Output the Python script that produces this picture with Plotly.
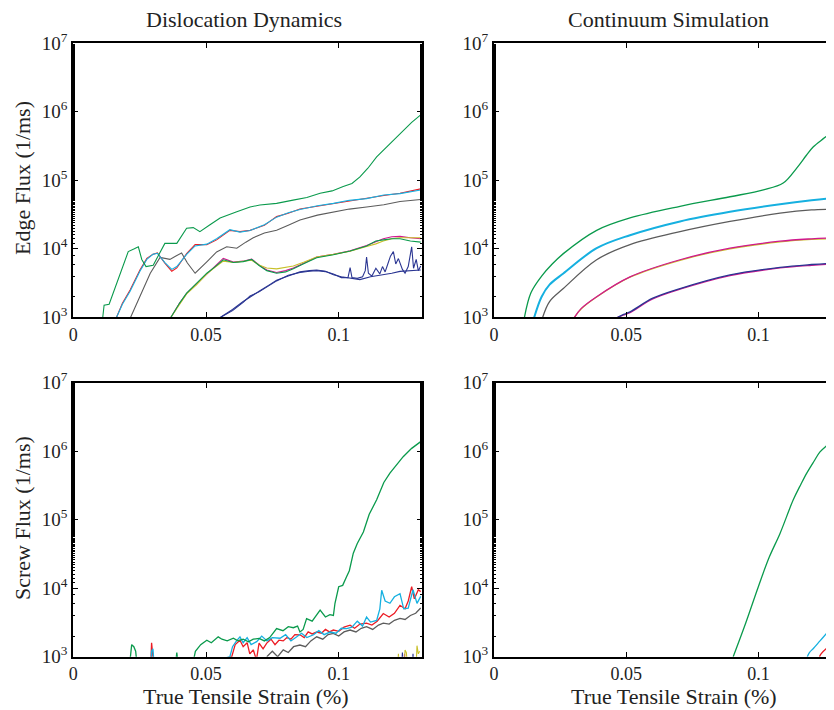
import plotly.graph_objects as go

# page body has an 8px margin, so the figure is drawn 8px in from the window corner
OFF = 8
W, H = 834 - OFF, 710 - OFF
FONT = "Liberation Serif"

GREEN = "#0a9a4c"
RED = "#ec1c24"
CYAN = "#16b0e0"
GRAY = "#5c5c5c"
MAGENTA = "#d0188f"
YELLOW = "#c8c02a"
BLUE = "#2a3592"

# ---------------- Edge flux, dislocation dynamics (top-left) ----------------
dd_edge_green_x = [0.0111, 0.0116, 0.0135, 0.0160, 0.0188, 0.0207, 0.0230, 0.0245, 0.0258, 0.0274, 0.0301,
                   0.0325, 0.0345, 0.0390, 0.0427, 0.0452, 0.0477, 0.0515, 0.0553, 0.0616, 0.0666, 0.0703,
                   0.0766, 0.0828, 0.0880, 0.0930, 0.0975, 0.1017, 0.1050, 0.1080, 0.1110, 0.1143, 0.1175,
                   0.1206, 0.1240, 0.1275, 0.1309]
dd_edge_green_y = [1000, 1500, 1550, 2800, 5500, 9100, 10000, 10700, 7000, 5500, 5750,
                   8500, 12000, 12000, 20000, 20400, 17800, 22400, 28200, 34700, 40700, 43700,
                   46000, 51300, 56000, 64600, 70000, 81300, 90000, 112000, 150000, 219000, 290000,
                   389000, 520000, 700000, 900000]

dd_edge_rc_x = [0.0163, 0.0185, 0.0214, 0.0251, 0.0277, 0.0300, 0.0317, 0.0345, 0.0371, 0.0390, 0.0427,
                0.0459, 0.0503, 0.0540, 0.0590, 0.0628, 0.0666, 0.0720, 0.0766, 0.0810, 0.0854, 0.0920,
                0.0980, 0.1040, 0.1105, 0.1170, 0.1231, 0.1309]
dd_edge_red_y = [1000, 1600, 2500, 4900, 7240, 8300, 8700, 6170, 4700, 5250, 8500,
                 11500, 11500, 13500, 18600, 17800, 18600, 22000, 29500, 33000, 38000, 42000,
                 45700, 50000, 55000, 60000, 64600, 75000]
dd_edge_cyan_y = [1000, 1550, 2400, 4700, 7000, 8300, 8600, 6300, 5000, 5500, 8300,
                  11000, 11700, 14000, 19000, 17500, 18500, 22500, 29000, 33500, 37500, 42500,
                  46000, 51000, 54000, 61000, 64000, 72000]

dd_edge_gray_x = [0.0216, 0.0250, 0.0290, 0.0327, 0.0350, 0.0364, 0.0385, 0.0408, 0.0430, 0.0459, 0.0503,
                  0.0540, 0.0578, 0.0616, 0.0650, 0.0678, 0.0720, 0.0766, 0.0810, 0.0854, 0.0920, 0.0980,
                  0.1040, 0.1105, 0.1170, 0.1231, 0.1309]
dd_edge_gray_y = [1000, 2000, 4400, 7500, 7200, 7000, 7800, 8700, 6200, 4400, 6450,
                  9000, 10700, 10200, 12500, 14500, 17000, 18600, 22000, 26300, 31000, 34700,
                  38000, 40700, 44000, 49000, 52500]

dd_edge_low_x = [0.0368, 0.0400, 0.0427, 0.0465, 0.0503, 0.0535, 0.0565, 0.0603, 0.0640, 0.0672, 0.0700,
                 0.0729, 0.0766, 0.0800, 0.0829, 0.0870, 0.0917, 0.0980, 0.1043, 0.1105, 0.1140, 0.1168,
                 0.1200, 0.1231, 0.1270, 0.1309]
dd_edge_magenta_y = [1000, 1600, 2240, 3100, 4370, 5600, 7240, 6400, 6600, 7100, 5800,
                     4900, 4500, 4800, 5250, 6200, 7590, 8320, 9330, 11200, 12500, 14000,
                     15000, 15200, 14500, 14000]
dd_edge_yellow_y = [1000, 1550, 2200, 3000, 4300, 5400, 6600, 6300, 6500, 6800, 5800,
                    5250, 5100, 5300, 5600, 6400, 7600, 8300, 9200, 10800, 11800, 13000,
                    14000, 14500, 14500, 14500]
dd_edge_green2_y = [1000, 1600, 2250, 3150, 4400, 5500, 6900, 6300, 6500, 7000, 5700,
                    4800, 4400, 4600, 5100, 6100, 7400, 8200, 9300, 11000, 13000, 13500,
                    14000, 14000, 13000, 12500]

dd_edge_blue_a_x = [0.0555, 0.0600, 0.0640, 0.0666, 0.0700, 0.0740, 0.0766, 0.0810, 0.0854, 0.0890, 0.0917,
                    0.0950, 0.0980, 0.1010, 0.1043, 0.1080, 0.1120, 0.1168, 0.1200, 0.1231, 0.1270, 0.1309]
dd_edge_blue_a_y = [1000, 1300, 1700, 2000, 2400, 3000, 3470, 4000, 4600, 4800, 4900,
                    4700, 4170, 3900, 3700, 3550, 3900, 4170, 4400, 4680, 4800, 4900]
dd_edge_blue_b_x = [0.0555, 0.0600, 0.0640, 0.0666, 0.0700, 0.0740, 0.0766, 0.0810, 0.0854, 0.0890, 0.0917,
                    0.0950, 0.0980, 0.1010, 0.1035, 0.1043, 0.1050, 0.1070, 0.1090, 0.1100, 0.1105, 0.1112,
                    0.1125, 0.1140, 0.1155, 0.1165, 0.1175, 0.1185, 0.1195, 0.1206, 0.1215, 0.1225, 0.1240,
                    0.1250, 0.1262, 0.1275, 0.1282, 0.1292, 0.1300, 0.1309]
dd_edge_blue_b_y = [1000, 1250, 1650, 2050, 2350, 2900, 3400, 4100, 4500, 4700, 4800,
                    4650, 4300, 3800, 3800, 5300, 3800, 3700, 3900, 4800, 7600, 4400,
                    4000, 5200, 4300, 5500, 4600, 6000, 7800, 9100, 6000, 7200, 5000,
                    4400, 5500, 10700, 5200, 7000, 4800, 5600]

# ---------------- Edge flux, continuum simulation (top-right) ----------------
cs_edge_green_x = [0.0115, 0.0140, 0.0180, 0.0220, 0.0262, 0.0388, 0.0514, 0.0703, 0.0892, 0.1018, 0.1093,
                   0.1144, 0.1180, 0.1207, 0.1250, 0.1282, 0.1310]
cs_edge_green_y = [1000, 2300, 4000, 6000, 8500, 18600, 28200, 41700, 57500, 72400, 91200,
                   151000, 230000, 309000, 420000, 537000, 650000]
cs_edge_cyan_x = [0.0152, 0.0180, 0.0210, 0.0262, 0.0388, 0.0514, 0.0703, 0.0892, 0.1081, 0.1200, 0.1282, 0.1310]
cs_edge_cyan_y = [1000, 2000, 3000, 4370, 10200, 15800, 25100, 34700, 44700, 51000, 55000, 56000]
cs_edge_gray_x = [0.0184, 0.0210, 0.0262, 0.0388, 0.0514, 0.0703, 0.0892, 0.1081, 0.1200, 0.1282, 0.1310]
cs_edge_gray_y = [1000, 1700, 2630, 6920, 11500, 17800, 25100, 33100, 37000, 38000, 38500]
cs_edge_mid_x = [0.0304, 0.0330, 0.0388, 0.0514, 0.0703, 0.0892, 0.1081, 0.1200, 0.1282, 0.1310]
cs_edge_magenta_y = [1000, 1350, 2000, 3890, 6920, 10200, 12900, 14000, 14500, 14600]
cs_edge_yellow_y = [1000, 1330, 1980, 3850, 6800, 10000, 12600, 13700, 14000, 14100]
cs_edge_low_x = [0.0467, 0.0490, 0.0514, 0.0600, 0.0703, 0.0892, 0.1081, 0.1200, 0.1282, 0.1310]
cs_edge_blue_y = [1000, 1100, 1200, 1900, 2630, 4170, 5370, 5900, 6170, 6200]
cs_edge_purple_y = [1000, 1080, 1170, 1850, 2570, 4070, 5250, 5750, 6000, 6050]

# ---------------- Screw flux, dislocation dynamics (bottom-left) ----------------
dd_screw_green_x = [0.0214, 0.0220, 0.0228, 0.0235, 0.0245, 0.0380, 0.0390, 0.0400, 0.0440, 0.0460, 0.0480,
                    0.0503, 0.0520, 0.0546, 0.0560, 0.0580, 0.0603, 0.0620, 0.0640, 0.0660, 0.0678, 0.0700,
                    0.0720, 0.0740, 0.0766, 0.0790, 0.0810, 0.0829, 0.0845, 0.0854, 0.0866, 0.0879, 0.0900,
                    0.0915, 0.0930, 0.0950, 0.0967, 0.0980, 0.0986, 0.1000, 0.1015, 0.1030, 0.1040, 0.1055,
                    0.1070, 0.1093, 0.1115, 0.1143, 0.1170, 0.1193, 0.1220, 0.1243, 0.1275, 0.1309]
dd_screw_green_y = [900, 1500, 1400, 1200, 500, 500, 1150, 500, 500, 1200, 1500,
                    1740, 1600, 1950, 1800, 1700, 1860, 1700, 1800, 1650, 1800, 1850,
                    1700, 1900, 2570, 2400, 2750, 2650, 2800, 2300, 2500, 3600, 3300,
                    4000, 4790, 3800, 4100, 4000, 6030, 10500, 11000, 14800, 18000, 32400,
                    45000, 66100, 120000, 195000, 350000, 479000, 650000, 832000, 1100000, 1380000]
dd_screw_red_x = [0.0290, 0.0295, 0.0300, 0.0305, 0.0597, 0.0610, 0.0628, 0.0640, 0.0655, 0.0665, 0.0678,
                  0.0690, 0.0700, 0.0715, 0.0729, 0.0745, 0.0760, 0.0775, 0.0791, 0.0805, 0.0820, 0.0835,
                  0.0854, 0.0870, 0.0885, 0.0900, 0.0917, 0.0935, 0.0950, 0.0965, 0.0980, 0.1000, 0.1020,
                  0.1043, 0.1060, 0.1080, 0.1105, 0.1125, 0.1145, 0.1168, 0.1190, 0.1210, 0.1231, 0.1250,
                  0.1262, 0.1275, 0.1285, 0.1300, 0.1309]
dd_screw_red_y = [500, 1600, 1000, 500, 1000, 1500, 1740, 1400, 1600, 1100, 1260,
                  900, 1580, 1300, 1580, 1800, 1500, 1740, 1700, 1900, 1800, 2100,
                  2090, 1900, 2300, 2150, 2290, 2200, 2500, 2300, 2450, 2350, 2700,
                  2880, 2600, 3000, 3090, 2900, 3300, 4270, 3800, 4300, 5620, 5000,
                  6500, 10500, 7000, 9500, 8910]
dd_screw_cyan_x = [0.0290, 0.0295, 0.0300, 0.0308, 0.0590, 0.0600, 0.0615, 0.0628, 0.0640, 0.0655, 0.0670,
                   0.0691, 0.0710, 0.0730, 0.0750, 0.0779, 0.0800, 0.0820, 0.0842, 0.0860, 0.0880, 0.0905,
                   0.0925, 0.0945, 0.0967, 0.0990, 0.1010, 0.1030, 0.1050, 0.1070, 0.1090, 0.1105, 0.1120,
                   0.1143, 0.1155, 0.1162, 0.1175, 0.1193, 0.1210, 0.1231, 0.1245, 0.1262, 0.1280, 0.1295,
                   0.1309]
dd_screw_cyan_y = [500, 1200, 1300, 500, 1000, 1400, 1700, 1950, 1600, 1900, 1500,
                   1660, 2000, 1700, 1900, 1860, 2100, 1700, 1950, 2200, 1900, 2090,
                   2400, 2100, 2290, 2200, 2600, 2570, 2700, 3300, 2800, 3800, 3200,
                   3390, 5000, 9330, 6500, 6030, 7500, 8320, 5000, 5130, 9500, 6000,
                   7590]
dd_screw_gray_x = [0.0729, 0.0750, 0.0770, 0.0791, 0.0810, 0.0830, 0.0854, 0.0875, 0.0895, 0.0917, 0.0940,
                   0.0960, 0.0980, 0.1000, 0.1020, 0.1043, 0.1065, 0.1085, 0.1105, 0.1128, 0.1150, 0.1168,
                   0.1190, 0.1210, 0.1231, 0.1250, 0.1270, 0.1290, 0.1309]
dd_screw_gray_y = [1000, 1200, 1000, 1260, 1150, 1400, 1480, 1400, 1700, 1950, 1800,
                   2100, 2190, 2000, 2300, 2450, 2300, 2600, 2750, 2500, 2900, 3090,
                   3000, 3400, 3630, 3500, 4000, 4300, 5130]
dd_screw_yellow_x = [0.1220, 0.1225, 0.1230, 0.1245, 0.1250, 0.1255, 0.1262, 0.1290, 0.1295, 0.1300, 0.1305]
dd_screw_yellow_y = [500, 1100, 500, 500, 1250, 1150, 500, 500, 1450, 1100, 1200]
dd_screw_blue_x = [0.1235, 0.1240, 0.1245, 0.1275, 0.1280, 0.1285]
dd_screw_blue_y = [500, 1150, 500, 500, 1100, 500]
dd_screw_magenta_x = [0.1245, 0.1248, 0.1252]
dd_screw_magenta_y = [500, 1100, 500]

# ---------------- Screw flux, continuum simulation (bottom-right) ----------------
cs_screw_green_x = [0.0904, 0.0950, 0.0999, 0.1040, 0.1081, 0.1131, 0.1160, 0.1182, 0.1210, 0.1232, 0.1260,
                    0.1282, 0.1310]
cs_screw_green_y = [1000, 3000, 10500, 28200, 63100, 195000, 330000, 479000, 720000, 977000, 1230000,
                    1450000, 1580000]
cs_screw_cyan_x = [0.1184, 0.1192, 0.1207, 0.1232, 0.1257, 0.1284, 0.1310]
cs_screw_cyan_y = [1000, 1150, 1320, 1700, 2190, 2880, 3630]
cs_screw_red_x = [0.1230, 0.1236, 0.1257, 0.1284, 0.1310]
cs_screw_red_y = [1000, 1100, 1320, 1580, 1900]

# ---------------- Text ----------------
x_tick_vals = [0, 0.05, 0.1]
x_tick_text = ["0", "0.05", "0.1"]
y_tick_vals = [1e3, 1e4, 1e5, 1e6, 1e7]
y_tick_text = ["10<sup>3</sup>", "10<sup>4</sup>", "10<sup>5</sup>", "10<sup>6</sup>", "10<sup>7</sup>"]
col_titles = ["Dislocation Dynamics", "Continuum Simulation"]
row_titles = ["Edge Flux (1/ms)", "Screw Flux (1/ms)"]
x_title = "True Tensile Strain (%)"

# ---------------- Figure ----------------
fig = go.Figure()


def add(x, y, color, ax, width=1.1, shape="linear"):
    fig.add_trace(go.Scatter(x=x, y=y, mode="lines", line=dict(color=color, width=width, shape=shape),
                             xaxis="x" + ax, yaxis="y" + ax, showlegend=False, hoverinfo="skip"))


# top-left
add(dd_edge_blue_a_x, dd_edge_blue_a_y, BLUE, "")
add(dd_edge_blue_b_x, dd_edge_blue_b_y, BLUE, "")
add(dd_edge_low_x, dd_edge_magenta_y, MAGENTA, "")
add(dd_edge_low_x, dd_edge_yellow_y, YELLOW, "")
add(dd_edge_low_x, dd_edge_green2_y, GREEN, "")
add(dd_edge_gray_x, dd_edge_gray_y, GRAY, "")
add(dd_edge_rc_x, dd_edge_red_y, RED, "")
add(dd_edge_rc_x, dd_edge_cyan_y, CYAN, "")
add(dd_edge_green_x, dd_edge_green_y, GREEN, "")

# top-right
SP = "spline"
add(cs_edge_low_x, cs_edge_purple_y, MAGENTA, "2", 1.3, SP)
add(cs_edge_low_x, cs_edge_blue_y, BLUE, "2", 1.3, SP)
add(cs_edge_mid_x, cs_edge_yellow_y, YELLOW, "2", 1.3, SP)
add(cs_edge_mid_x, cs_edge_magenta_y, MAGENTA, "2", 1.3, SP)
add(cs_edge_gray_x, cs_edge_gray_y, GRAY, "2", 1.3, SP)
add(cs_edge_cyan_x, cs_edge_cyan_y, CYAN, "2", 2.0, SP)
add(cs_edge_green_x, cs_edge_green_y, GREEN, "2", 1.3, SP)

# bottom-left
add(dd_screw_magenta_x, dd_screw_magenta_y, MAGENTA, "3")
add(dd_screw_blue_x, dd_screw_blue_y, BLUE, "3")
add(dd_screw_yellow_x, dd_screw_yellow_y, YELLOW, "3")
add(dd_screw_gray_x, dd_screw_gray_y, GRAY, "3", 1.3)
add(dd_screw_red_x, dd_screw_red_y, RED, "3", 1.3)
add(dd_screw_cyan_x, dd_screw_cyan_y, CYAN, "3", 1.3)
add(dd_screw_green_x, dd_screw_green_y, GREEN, "3", 1.3)

# bottom-right
add(cs_screw_red_x, cs_screw_red_y, RED, "4", 1.3, SP)
add(cs_screw_cyan_x, cs_screw_cyan_y, CYAN, "4", 1.3, SP)
add(cs_screw_green_x, cs_screw_green_y, GREEN, "4", 1.3, SP)


def px(v):
    return (v - OFF) / W


def py(v):
    return 1 - (v - OFF) / H


x_tick_font = dict(family=FONT, size=18, color="#222")
y_tick_font = dict(family=FONT, size=19, color="#222")
LEFT_DOM = [px(73.3), px(421.7)]
RIGHT_DOM = [px(494), 1.0]
TOP_DOM = [py(317.3), py(43.3)]
BOT_DOM = [py(656.7), py(382.7)]


def xax(domain, rng, anchor):
    return dict(domain=domain, range=rng, anchor=anchor, tickvals=x_tick_vals, ticktext=x_tick_text,
                ticks="inside", ticklen=5, tickwidth=1, tickcolor="black", mirror="ticks",
                showline=True, linecolor="black", linewidth=2, showgrid=False, zeroline=False,
                tickfont=x_tick_font, fixedrange=True, automargin=False)


def yax(domain, anchor, mirror):
    return dict(domain=domain, type="log", range=[3, 7], anchor=anchor, tickvals=y_tick_vals,
                ticktext=y_tick_text, ticks="inside", ticklen=5, tickwidth=1, tickcolor="black",
                mirror=mirror, showline=True, linecolor="black", linewidth=2, showgrid=False,
                zeroline=False, tickfont=y_tick_font, fixedrange=True, automargin=False,
                minor=dict(ticks="inside", ticklen=2, tickwidth=1, tickcolor="black", showgrid=False))


xl_range = [0, (421.7 - 73.3) / 2654]
xr_range = [0, (834 - 494) / 2646]

fig.update_layout(
    template="none",
    width=W, height=H,
    margin=dict(l=0, r=0, t=0, b=0, pad=0),
    paper_bgcolor="white", plot_bgcolor="white",
    font=dict(family=FONT, color="#222"),
    xaxis=xax(LEFT_DOM, xl_range, "y"),
    yaxis=yax(TOP_DOM, "x", "ticks"),
    xaxis2=xax(RIGHT_DOM, xr_range, "y2"),
    yaxis2=yax(TOP_DOM, "x2", False),
    xaxis3=xax(LEFT_DOM, xl_range, "y3"),
    yaxis3=yax(BOT_DOM, "x3", "ticks"),
    xaxis4=xax(RIGHT_DOM, xr_range, "y4"),
    yaxis4=yax(BOT_DOM, "x4", False),
)

ann_font = dict(family=FONT, size=22, color="#222")
annotations = [
    dict(text=col_titles[0], x=px(244), y=py(19), xref="paper", yref="paper", showarrow=False,
         xanchor="center", yanchor="middle", font=ann_font),
    dict(text=col_titles[1], x=px(668), y=py(19), xref="paper", yref="paper", showarrow=False,
         xanchor="center", yanchor="middle", font=ann_font),
    dict(text=row_titles[0], x=px(22), y=py(178), xref="paper", yref="paper", showarrow=False,
         xanchor="center", yanchor="middle", textangle=-90, font=ann_font),
    dict(text=row_titles[1], x=px(22), y=py(518), xref="paper", yref="paper", showarrow=False,
         xanchor="center", yanchor="middle", textangle=-90, font=ann_font),
    dict(text=x_title, x=px(246), y=py(696), xref="paper", yref="paper", showarrow=False,
         xanchor="center", yanchor="middle", font=ann_font),
    dict(text=x_title, x=px(674), y=py(696), xref="paper", yref="paper", showarrow=False,
         xanchor="center", yanchor="middle", font=ann_font),
]
fig.update_layout(annotations=annotations)

fig.write_html("out.html", config={"displayModeBar": False})
